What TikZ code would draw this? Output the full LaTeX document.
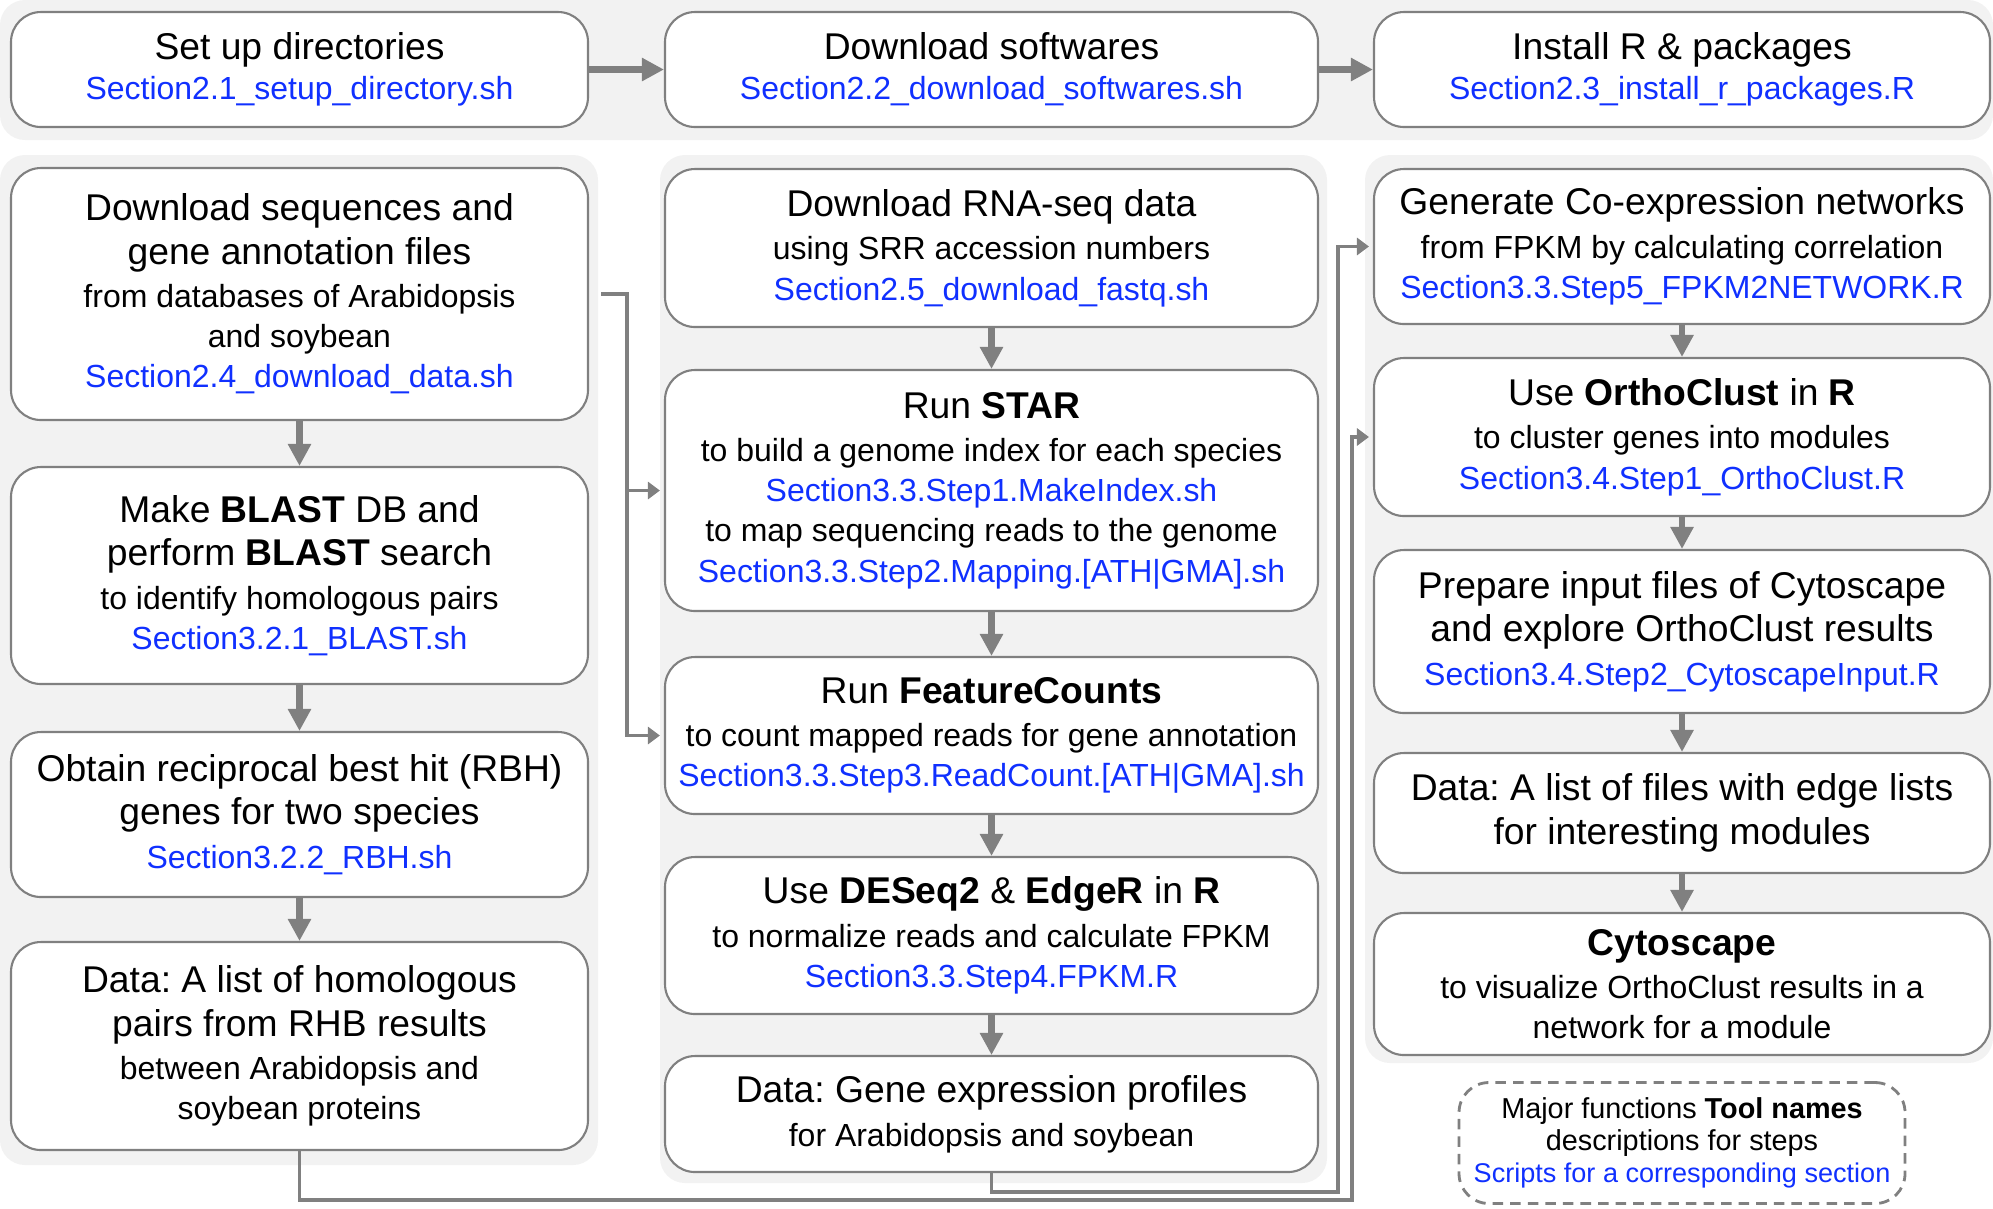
\documentclass[tikz,border=0pt]{standalone}
\usepackage{fontspec}
\setmainfont{Liberation Sans}
\usepackage{tikz}
\usetikzlibrary{arrows.meta}

\definecolor{boxgray}{RGB}{128,128,128}
\definecolor{panelgray}{RGB}{242,242,242}
\definecolor{scriptblue}{RGB}{16,48,255}

\frenchspacing
\setlength{\lineskiplimit}{-20pt}

\newcommand{\headtxt}[1]{{\fontsize{10.6}{11.4}\selectfont #1}}
\newcommand{\scripttxt}[1]{{\color{scriptblue}#1}}

\tikzset{
  flowbox/.style={draw=boxgray, line width=0.6pt, fill=white, rounded corners=0.3cm,
    align=center, inner sep=0pt, font=\fontsize{9.1}{11.4}\selectfont},
  panel/.style={fill=panelgray, rounded corners=0.25cm},
  stepline/.style={draw=boxgray, line width=1.8pt, -{Triangle[length=0.22cm, width=0.22cm]}},
  feedline/.style={draw=boxgray, line width=1.1pt, shorten >=0.04cm,
    -{Triangle[length=0.12cm, width=0.17cm]}}
}

\begin{document}
\begin{tikzpicture}

\useasboundingbox ( 0, 0 ) rectangle ( 19.93, -12.08 );

% Panels
\fill [panel] ( 0, 0 ) rectangle ( 19.93, -1.40 );
\fill [panel] ( 0, -1.55 ) rectangle ( 5.98, -11.65 );
\fill [panel] ( 6.60, -1.55 ) rectangle ( 13.27, -11.83 );
\fill [panel] ( 13.65, -1.55 ) rectangle ( 19.93, -10.63 );

% Setup row
\node (setup) at ( 2.995, -0.695 ) [flowbox, minimum width=5.77cm, minimum height=1.15cm]
  {\headtxt{Set up directories}\\ \scripttxt{Section2.1\_setup\_directory.sh}};
\node (softw) at ( 9.915, -0.695 ) [flowbox, minimum width=6.53cm, minimum height=1.15cm]
  {\headtxt{Download softwares}\\ \scripttxt{Section2.2\_download\_softwares.sh}};
\node (rpkg) at ( 16.82, -0.695 ) [flowbox, minimum width=6.16cm, minimum height=1.15cm]
  {\headtxt{Install R \& packages}\\ \scripttxt{Section2.3\_install\_r\_packages.R}};

% Homologs
\node (dl) at ( 2.995, -2.94 ) [flowbox, minimum width=5.77cm, minimum height=2.52cm]
  {\headtxt{Download sequences and}\\[1pt] \headtxt{gene annotation files}\\[1pt]
   from databases of Arabidopsis\\ and soybean\\
   \scripttxt{Section2.4\_download\_data.sh}};
\node (blast) at ( 2.995, -5.755 ) [flowbox, minimum width=5.77cm, minimum height=2.17cm]
  {\headtxt{Make \textbf{BLAST} DB and}\\[1pt] \headtxt{perform \textbf{BLAST} search}\\[1pt]
   to identify homologous pairs\\ \scripttxt{Section3.2.1\_BLAST.sh}};
\node (rbh) at ( 2.995, -8.145 ) [flowbox, minimum width=5.77cm, minimum height=1.65cm]
  {\headtxt{Obtain reciprocal best hit (RBH)}\\[1pt] \headtxt{genes for two species}\\[1pt]
   \scripttxt{Section3.2.2\_RBH.sh}};
\node (homolog) at ( 2.995, -10.46 ) [flowbox, minimum width=5.77cm, minimum height=2.08cm]
  {\headtxt{Data: A list of homologous}\\[1pt] \headtxt{pairs from RHB results}\\[1pt]
   between Arabidopsis and\\ soybean proteins};

% Expression
\node (fastq) at ( 9.915, -2.48 ) [flowbox, minimum width=6.53cm, minimum height=1.58cm]
  {\headtxt{Download RNA-seq data}\\[1pt] using SRR accession numbers\\
   \scripttxt{Section2.5\_download\_fastq.sh}};
\node (star) at ( 9.915, -4.905 ) [flowbox, minimum width=6.53cm, minimum height=2.41cm]
  {\headtxt{Run \textbf{STAR}}\\[1pt] to build a genome index for each species\\
   \scripttxt{Section3.3.Step1.MakeIndex.sh}\\ to map sequencing reads to the genome\\
   \scripttxt{Section3.3.Step2.Mapping.[ATH|GMA].sh}};
\node (count) at ( 9.915, -7.355 ) [flowbox, minimum width=6.53cm, minimum height=1.57cm]
  {\headtxt{Run \textbf{FeatureCounts}}\\[1pt] to count mapped reads for gene annotation\\
   \scripttxt{Section3.3.Step3.ReadCount.[ATH|GMA].sh}};
\node (fpkm) at ( 9.915, -9.355 ) [flowbox, minimum width=6.53cm, minimum height=1.57cm]
  {\headtxt{Use \textbf{DESeq2} \& \textbf{EdgeR} in \textbf{R}}\\[1pt]
   to normalize reads and calculate FPKM\\ \scripttxt{Section3.3.Step4.FPKM.R}};
\node (profiles) at ( 9.915, -11.14 ) [flowbox, minimum width=6.53cm, minimum height=1.16cm]
  {\headtxt{Data: Gene expression profiles}\\[1pt] for Arabidopsis and soybean};

% Networks
\node (network) at ( 16.82, -2.465 ) [flowbox, minimum width=6.16cm, minimum height=1.55cm]
  {\headtxt{Generate Co-expression networks}\\[1pt] from FPKM by calculating correlation\\
   \scripttxt{Section3.3.Step5\_FPKM2NETWORK.R}};
\node (ortho) at ( 16.82, -4.37 ) [flowbox, minimum width=6.16cm, minimum height=1.58cm]
  {\headtxt{Use \textbf{OrthoClust} in \textbf{R}}\\[1pt] to cluster genes into modules\\
   \scripttxt{Section3.4.Step1\_OrthoClust.R}};
\node (cytoin) at ( 16.82, -6.315 ) [flowbox, minimum width=6.16cm, minimum height=1.63cm]
  {\headtxt{Prepare input files of Cytoscape}\\[1pt] \headtxt{and explore OrthoClust results}\\[1pt]
   \scripttxt{Section3.4.Step2\_CytoscapeInput.R}};
\node (edges) at ( 16.82, -8.13 ) [flowbox, minimum width=6.16cm, minimum height=1.20cm]
  {\headtxt{Data: A list of files with edge lists}\\[1pt] \headtxt{for interesting modules}};
\node (cytoscape) at ( 16.82, -9.84 ) [flowbox, minimum width=6.16cm, minimum height=1.42cm]
  {\headtxt{\textbf{Cytoscape}}\\[1pt] to visualize OrthoClust results in a\\ network for a module};

% Legend
\node (legend) at ( 16.82, -11.43 ) [draw=boxgray, line width=0.8pt, dash pattern=on 3pt off 2pt,
  rounded corners=0.3cm, minimum width=4.46cm, minimum height=1.21cm, align=center, inner sep=0pt,
  font=\fontsize{8.2}{9.1}\selectfont]
  {Major functions \textbf{Tool names}\\ descriptions for steps\\
   \scripttxt{\fontsize{7.7}{9.1}\selectfont Scripts for a corresponding section}};

% Steps
\draw [stepline] (setup) -- (softw);
\draw [stepline] (softw) -- (rpkg);
\draw [stepline] (dl) -- (blast);
\draw [stepline] (blast) -- (rbh);
\draw [stepline] (rbh) -- (homolog);
\draw [stepline] (fastq) -- (star);
\draw [stepline] (star) -- (count);
\draw [stepline] (count) -- (fpkm);
\draw [stepline] (fpkm) -- (profiles);
\draw [stepline] (network) -- (ortho);
\draw [stepline] (ortho) -- (cytoin);
\draw [stepline] (cytoin) -- (edges);
\draw [stepline] (edges) -- (cytoscape);

% Feeds between columns
\coordinate (split) at ( 6.27, -2.94 );
\coordinate (inner) at ( 13.38, -11.92 );
\coordinate (outer) at ( 13.52, -12.00 );
\draw [feedline] ([xshift=0.12cm]dl.east) -- (split) |- (star);
\draw [feedline] (split) |- (count);
\draw [feedline] (homolog.south) |- (outer) |- (ortho);
\draw [feedline] (profiles.south) |- (inner) |- (network);

\end{tikzpicture}
\end{document}
